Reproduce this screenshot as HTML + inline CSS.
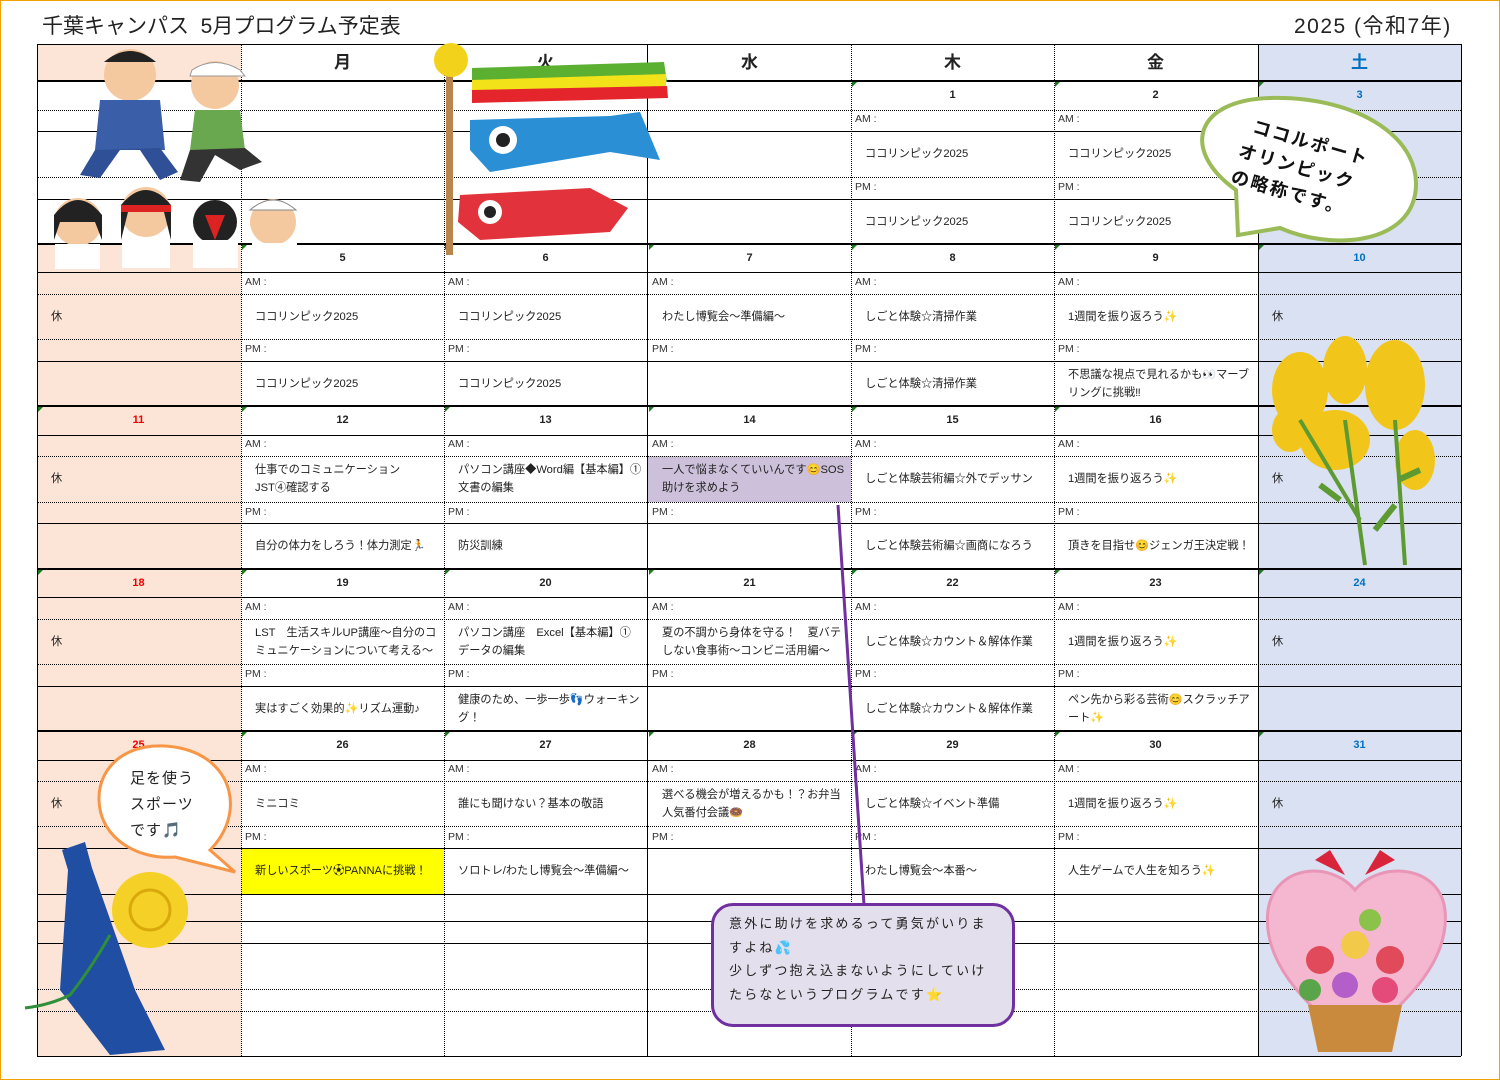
<!DOCTYPE html>
<html><head><meta charset="utf-8"><style>
body{margin:0;width:1500px;height:1080px;background:#fff;position:relative;overflow:hidden;font-family:"Liberation Sans","Noto Sans CJK JP",sans-serif;color:#222}
.a{position:absolute}
.h{position:absolute;left:37px;width:1424px;height:0;border-top:1px solid #000}
.hd{border-top:1px dotted #000}
.hb{border-top:2px solid #000}
.v{position:absolute;top:44px;height:1012px;width:0;border-left:1px solid #000}
.vd{border-left:1px dotted #000}
.d{position:absolute;width:203px;text-align:center;font-size:11px;font-weight:bold;line-height:29px}
.l{position:absolute;font-size:10.5px;line-height:22px;padding-left:4px;color:#333}
.c{position:absolute;width:186px;padding-left:14px;font-size:11.2px;line-height:18px;display:flex;align-items:center;color:#222}
.tri{position:absolute;width:0;height:0;border-top:5px solid #1a7a1a;border-right:5px solid transparent}
.hdr{position:absolute;top:44px;height:37px;width:203px;text-align:center;font-size:17px;font-weight:bold;line-height:37px}
</style></head><body>
<div class="a" style="left:0;top:0;width:1498px;height:1078px;border:1px solid #f0a000"></div>
<div class="a" style="left:42px;top:10px;font-size:21px">千葉キャンパス&nbsp;&nbsp;5月プログラム予定表</div>
<div class="a" style="left:1294px;top:10px;font-size:21px;letter-spacing:1.5px">2025 (令和7年)</div>
<!-- backgrounds -->
<div class="a" style="left:37px;top:44px;width:204px;height:1012px;background:#fce4d6"></div>
<div class="a" style="left:1258px;top:44px;width:203px;height:1012px;background:#d9e1f2"></div>
<div class="a" style="left:38px;top:82px;width:203px;height:162px;background:#fff"></div>
<div class="a" style="left:648px;top:456px;width:203px;height:46px;background:#ccc0da"></div>
<div class="a" style="left:241px;top:848px;width:203px;height:46px;background:#ffff00"></div>
<!-- headers -->
<div class="hdr" style="left:241px">月</div><div class="hdr" style="left:444px">火</div><div class="hdr" style="left:648px">水</div><div class="hdr" style="left:851px">木</div><div class="hdr" style="left:1054px">金</div><div class="hdr" style="left:1258px;color:#0070c0">土</div>
<!-- horizontal lines -->
<div class="h" style="top:44px"></div><div class="h hb" style="top:80px"></div>
<div class="h hd" style="top:110px"></div><div class="h" style="top:131px;border-top-style:solid"></div><div class="h hd" style="top:177px"></div><div class="h" style="top:199px"></div>
<div class="h hb" style="top:243px"></div><div class="h" style="top:272px"></div><div class="h hd" style="top:294px"></div><div class="h hd" style="top:339px"></div><div class="h" style="top:361px"></div>
<div class="h hb" style="top:405px"></div><div class="h" style="top:435px"></div><div class="h hd" style="top:456px"></div><div class="h hd" style="top:502px"></div><div class="h" style="top:523px"></div>
<div class="h hb" style="top:568px"></div><div class="h" style="top:597px"></div><div class="h hd" style="top:619px"></div><div class="h hd" style="top:664px"></div><div class="h" style="top:686px"></div>
<div class="h hb" style="top:730px"></div><div class="h" style="top:760px"></div><div class="h hd" style="top:781px"></div><div class="h hd" style="top:826px"></div><div class="h" style="top:848px"></div>
<div class="h" style="top:894px"></div><div class="h" style="top:921px"></div><div class="h" style="top:943px"></div><div class="h hd" style="top:989px"></div><div class="h hd" style="top:1011px"></div><div class="h" style="top:1056px"></div>
<!-- vertical -->
<div class="v" style="left:37px"></div><div class="v vd" style="left:241px"></div><div class="v vd" style="left:444px"></div><div class="v" style="left:647px"></div><div class="v vd" style="left:851px"></div><div class="v vd" style="left:1054px"></div><div class="v" style="left:1258px"></div><div class="v" style="left:1461px"></div>
<!-- dates -->
<div class="d" style="left:851px;top:81px">1</div><div class="d" style="left:1054px;top:81px">2</div><div class="d" style="left:1258px;top:81px;color:#0070c0">3</div>
<div class="d" style="left:241px;top:244px">5</div><div class="d" style="left:444px;top:244px">6</div><div class="d" style="left:648px;top:244px">7</div><div class="d" style="left:851px;top:244px">8</div><div class="d" style="left:1054px;top:244px">9</div><div class="d" style="left:1258px;top:244px;color:#0070c0">10</div>
<div class="d" style="left:37px;top:406px;color:#e00">11</div><div class="d" style="left:241px;top:406px">12</div><div class="d" style="left:444px;top:406px">13</div><div class="d" style="left:648px;top:406px">14</div><div class="d" style="left:851px;top:406px">15</div><div class="d" style="left:1054px;top:406px">16</div>
<div class="d" style="left:37px;top:569px;color:#e00">18</div><div class="d" style="left:241px;top:569px">19</div><div class="d" style="left:444px;top:569px">20</div><div class="d" style="left:648px;top:569px">21</div><div class="d" style="left:851px;top:569px">22</div><div class="d" style="left:1054px;top:569px">23</div><div class="d" style="left:1258px;top:569px;color:#0070c0">24</div>
<div class="d" style="left:37px;top:731px;color:#e00">25</div><div class="d" style="left:241px;top:731px">26</div><div class="d" style="left:444px;top:731px">27</div><div class="d" style="left:648px;top:731px">28</div><div class="d" style="left:851px;top:731px">29</div><div class="d" style="left:1054px;top:731px">30</div><div class="d" style="left:1258px;top:731px;color:#0070c0">31</div>
<!-- triangles -->
<div class="tri" style="left:852px;top:82px"></div><div class="tri" style="left:1055px;top:82px"></div><div class="tri" style="left:1259px;top:82px"></div>
<div class="tri" style="left:242px;top:245px"></div><div class="tri" style="left:445px;top:245px"></div><div class="tri" style="left:649px;top:245px"></div><div class="tri" style="left:852px;top:245px"></div><div class="tri" style="left:1055px;top:245px"></div><div class="tri" style="left:1259px;top:245px"></div>
<div class="tri" style="left:38px;top:407px"></div><div class="tri" style="left:242px;top:407px"></div><div class="tri" style="left:445px;top:407px"></div><div class="tri" style="left:649px;top:407px"></div><div class="tri" style="left:852px;top:407px"></div><div class="tri" style="left:1055px;top:407px"></div>
<div class="tri" style="left:38px;top:570px"></div><div class="tri" style="left:242px;top:570px"></div><div class="tri" style="left:445px;top:570px"></div><div class="tri" style="left:649px;top:570px"></div><div class="tri" style="left:852px;top:570px"></div><div class="tri" style="left:1055px;top:570px"></div><div class="tri" style="left:1259px;top:570px"></div>
<div class="tri" style="left:242px;top:732px"></div><div class="tri" style="left:445px;top:732px"></div><div class="tri" style="left:649px;top:732px"></div><div class="tri" style="left:852px;top:732px"></div><div class="tri" style="left:1055px;top:732px"></div><div class="tri" style="left:1259px;top:732px"></div>
<!-- AM/PM labels -->
<div class="l" style="left:851px;top:108px">AM :</div><div class="l" style="left:1054px;top:108px">AM :</div><div class="l" style="left:851px;top:176px">PM :</div><div class="l" style="left:1054px;top:176px">PM :</div>
<div class="l" style="left:241px;top:271px">AM :</div><div class="l" style="left:444px;top:271px">AM :</div><div class="l" style="left:648px;top:271px">AM :</div><div class="l" style="left:851px;top:271px">AM :</div><div class="l" style="left:1054px;top:271px">AM :</div>
<div class="l" style="left:241px;top:338px">PM :</div><div class="l" style="left:444px;top:338px">PM :</div><div class="l" style="left:648px;top:338px">PM :</div><div class="l" style="left:851px;top:338px">PM :</div><div class="l" style="left:1054px;top:338px">PM :</div>
<div class="l" style="left:241px;top:433px">AM :</div><div class="l" style="left:444px;top:433px">AM :</div><div class="l" style="left:648px;top:433px">AM :</div><div class="l" style="left:851px;top:433px">AM :</div><div class="l" style="left:1054px;top:433px">AM :</div>
<div class="l" style="left:241px;top:501px">PM :</div><div class="l" style="left:444px;top:501px">PM :</div><div class="l" style="left:648px;top:501px">PM :</div><div class="l" style="left:851px;top:501px">PM :</div><div class="l" style="left:1054px;top:501px">PM :</div>
<div class="l" style="left:241px;top:596px">AM :</div><div class="l" style="left:444px;top:596px">AM :</div><div class="l" style="left:648px;top:596px">AM :</div><div class="l" style="left:851px;top:596px">AM :</div><div class="l" style="left:1054px;top:596px">AM :</div>
<div class="l" style="left:241px;top:663px">PM :</div><div class="l" style="left:444px;top:663px">PM :</div><div class="l" style="left:648px;top:663px">PM :</div><div class="l" style="left:851px;top:663px">PM :</div><div class="l" style="left:1054px;top:663px">PM :</div>
<div class="l" style="left:241px;top:758px">AM :</div><div class="l" style="left:444px;top:758px">AM :</div><div class="l" style="left:648px;top:758px">AM :</div><div class="l" style="left:851px;top:758px">AM :</div><div class="l" style="left:1054px;top:758px">AM :</div>
<div class="l" style="left:241px;top:826px">PM :</div><div class="l" style="left:444px;top:826px">PM :</div><div class="l" style="left:648px;top:826px">PM :</div><div class="l" style="left:851px;top:826px">PM :</div><div class="l" style="left:1054px;top:826px">PM :</div>
<!-- content -->
<div class="c" style="left:851px;top:131px;height:46px">ココリンピック2025</div><div class="c" style="left:1054px;top:131px;height:46px">ココリンピック2025</div>
<div class="c" style="left:851px;top:199px;height:45px">ココリンピック2025</div><div class="c" style="left:1054px;top:199px;height:45px">ココリンピック2025</div>

<div class="c" style="left:37px;top:294px;height:45px">休</div><div class="c" style="left:1258px;top:294px;height:45px">休</div>
<div class="c" style="left:241px;top:294px;height:45px">ココリンピック2025</div><div class="c" style="left:444px;top:294px;height:45px">ココリンピック2025</div><div class="c" style="left:648px;top:294px;height:45px">わたし博覧会～準備編～</div><div class="c" style="left:851px;top:294px;height:45px">しごと体験☆清掃作業</div><div class="c" style="left:1054px;top:294px;height:45px">1週間を振り返ろう✨</div>
<div class="c" style="left:241px;top:361px;height:45px">ココリンピック2025</div><div class="c" style="left:444px;top:361px;height:45px">ココリンピック2025</div><div class="c" style="left:851px;top:361px;height:45px">しごと体験☆清掃作業</div><div class="c" style="left:1054px;top:361px;height:45px">不思議な視点で見れるかも👀マーブリングに挑戦‼</div>

<div class="c" style="left:37px;top:456px;height:46px">休</div><div class="c" style="left:1258px;top:456px;height:46px">休</div>
<div class="c" style="left:241px;top:456px;height:46px">仕事でのコミュニケーション　JST④確認する</div><div class="c" style="left:444px;top:456px;height:46px">パソコン講座◆Word編【基本編】①文書の編集</div><div class="c" style="left:648px;top:456px;height:46px">一人で悩まなくていいんです😊SOS助けを求めよう</div><div class="c" style="left:851px;top:456px;height:46px">しごと体験芸術編☆外でデッサン</div><div class="c" style="left:1054px;top:456px;height:46px">1週間を振り返ろう✨</div>
<div class="c" style="left:241px;top:523px;height:46px">自分の体力をしろう！体力測定🏃</div><div class="c" style="left:444px;top:523px;height:46px">防災訓練</div><div class="c" style="left:851px;top:523px;height:46px">しごと体験芸術編☆画商になろう</div><div class="c" style="left:1054px;top:523px;height:46px">頂きを目指せ😊ジェンガ王決定戦！</div>

<div class="c" style="left:37px;top:619px;height:45px">休</div><div class="c" style="left:1258px;top:619px;height:45px">休</div>
<div class="c" style="left:241px;top:619px;height:45px">LST　生活スキルUP講座～自分のコミュニケーションについて考える～</div><div class="c" style="left:444px;top:619px;height:45px">パソコン講座　Excel【基本編】①<br>データの編集</div><div class="c" style="left:648px;top:619px;height:45px">夏の不調から身体を守る！　夏バテ<br>しない食事術～コンビニ活用編～</div><div class="c" style="left:851px;top:619px;height:45px">しごと体験☆カウント＆解体作業</div><div class="c" style="left:1054px;top:619px;height:45px">1週間を振り返ろう✨</div>
<div class="c" style="left:241px;top:686px;height:45px">実はすごく効果的✨リズム運動♪</div><div class="c" style="left:444px;top:686px;height:45px">健康のため、一歩一歩👣ウォーキング！</div><div class="c" style="left:851px;top:686px;height:45px">しごと体験☆カウント＆解体作業</div><div class="c" style="left:1054px;top:686px;height:45px">ペン先から彩る芸術😊スクラッチアート✨</div>

<div class="c" style="left:37px;top:781px;height:45px">休</div><div class="c" style="left:1258px;top:781px;height:45px">休</div>
<div class="c" style="left:241px;top:781px;height:45px">ミニコミ</div><div class="c" style="left:444px;top:781px;height:45px">誰にも聞けない？基本の敬語</div><div class="c" style="left:648px;top:781px;height:45px">選べる機会が増えるかも！？お弁当<br>人気番付会議🍩</div><div class="c" style="left:851px;top:781px;height:45px">しごと体験☆イベント準備</div><div class="c" style="left:1054px;top:781px;height:45px">1週間を振り返ろう✨</div>
<div class="c" style="left:241px;top:848px;height:46px">新しいスポーツ⚽PANNAに挑戦！</div><div class="c" style="left:444px;top:848px;height:46px">ソロトレ/わたし博覧会～準備編～</div><div class="c" style="left:851px;top:848px;height:46px">わたし博覧会～本番～</div><div class="c" style="left:1054px;top:848px;height:46px">人生ゲームで人生を知ろう✨</div>

<!-- images (approximations) -->
<svg class="a" style="left:0;top:0" width="1500" height="1080">
 <g>
  <circle cx="130" cy="75" r="26" fill="#f5c9a0"/><path d="M104 62 Q130 40 156 62 Z" fill="#222"/>
  <path d="M100 100 L160 100 L165 150 L95 150Z" fill="#3a5fa8"/><path d="M95 150 L80 175 L100 178 L120 150 L140 150 L160 180 L178 172 L160 148Z" fill="#2f4f96"/>
  <circle cx="215" cy="85" r="24" fill="#f5c9a0"/><path d="M192 70 Q215 55 240 70 L245 76 L190 76Z" fill="#fff" stroke="#999"/>
  <path d="M195 110 L240 110 L245 150 L190 150Z" fill="#6aa84f"/><path d="M190 150 L180 180 L200 182 L215 155 L240 170 L262 162 L245 148Z" fill="#333"/>
  <circle cx="78" cy="222" r="24" fill="#f5c9a0"/><path d="M54 215 Q78 185 102 215 L102 240 L95 222 L60 222 L54 240Z" fill="#222"/><rect x="55" y="244" width="45" height="25" fill="#fff"/>
  <circle cx="146" cy="212" r="25" fill="#f5c9a0"/><path d="M121 205 Q146 175 171 205 L171 240 L164 212 L128 212 L121 240Z" fill="#222"/><path d="M121 205 L171 205 L171 212 L121 212Z" fill="#d22"/><rect x="122" y="238" width="48" height="30" fill="#fff"/>
  <circle cx="215" cy="222" r="22" fill="#222"/><path d="M205 215 L225 215 L215 240Z" fill="#d22"/><rect x="193" y="240" width="45" height="28" fill="#fff"/>
  <circle cx="273" cy="222" r="23" fill="#f5c9a0"/><path d="M250 210 Q273 190 296 210Z" fill="#fff" stroke="#888"/><rect x="252" y="243" width="45" height="25" fill="#fff"/>
 </g>
 <rect x="446" y="62" width="7" height="193" fill="#b8864b"/>
 <circle cx="451" cy="60" r="17" fill="#f3d21b"/>
 <path d="M472 68 L664 62 L667 82 L472 90Z" fill="#5cb031"/><path d="M472 80 L666 74 L666 90 L472 96Z" fill="#f2e21a"/><path d="M472 90 L667 86 L668 98 L472 103Z" fill="#e4262c"/>
 <path d="M470 120 L610 116 L640 112 L660 160 L610 152 L490 172 L470 150Z" fill="#2a8fd4"/><circle cx="503" cy="140" r="14" fill="#fff"/><circle cx="503" cy="140" r="7" fill="#222"/>
 <path d="M460 195 L590 188 L628 208 L610 232 L480 240 L458 222Z" fill="#e2323c"/><circle cx="490" cy="212" r="12" fill="#fff"/><circle cx="490" cy="212" r="6" fill="#222"/>
 <g fill="#f2c51a">
  <ellipse cx="1300" cy="390" rx="28" ry="38"/><ellipse cx="1345" cy="370" rx="22" ry="34"/><ellipse cx="1395" cy="385" rx="30" ry="45"/><ellipse cx="1335" cy="440" rx="35" ry="30"/><ellipse cx="1415" cy="460" rx="20" ry="30"/><ellipse cx="1290" cy="430" rx="18" ry="22"/>
 </g>
 <path d="M1345 420 L1365 565 M1395 420 L1405 565 M1300 420 L1360 520" stroke="#5d9a32" stroke-width="4" fill="none"/>
 <path d="M1340 500 L1320 485 M1375 530 L1395 505 M1398 480 L1420 470" stroke="#5d9a32" stroke-width="6"/>
 <path d="M62 850 L85 842 L92 868 L135 990 L165 1050 L110 1055 L60 990 L68 870Z" fill="#1f4ea3"/>
 <path d="M110 935 Q90 970 70 995 Q50 1005 25 1008" stroke="#2f8f3a" stroke-width="3" fill="none"/>
 <circle cx="150" cy="910" r="38" fill="#f5d026"/><circle cx="150" cy="910" r="20" fill="none" stroke="#d9a90c" stroke-width="3"/>
 <path d="M1355 1045 C1300 1000 1262 960 1268 910 C1275 865 1330 860 1355 890 C1380 860 1440 865 1445 910 C1450 960 1410 1000 1355 1045Z" fill="#f4b7cf" stroke="#e895b6" stroke-width="3"/>
 <path d="M1315 860 L1345 875 L1330 850Z M1395 860 L1365 875 L1380 850Z" fill="#d8253c"/>
 <circle cx="1320" cy="960" r="14" fill="#e04a5a"/><circle cx="1355" cy="945" r="14" fill="#f3c94a"/><circle cx="1390" cy="960" r="14" fill="#e04a5a"/><circle cx="1345" cy="985" r="13" fill="#b45fc9"/><circle cx="1385" cy="990" r="13" fill="#e44a7a"/><circle cx="1310" cy="990" r="11" fill="#5aa54a"/><circle cx="1370" cy="920" r="11" fill="#8bc34a"/>
 <path d="M1308 1005 L1402 1005 L1392 1052 L1318 1052Z" fill="#c98a3e"/>
 <line x1="838" y1="505" x2="864" y2="905" stroke="#7030a0" stroke-width="3"/>
 <path d="M1238 235 L1236 190 C1180 150 1195 100 1270 98 C1360 96 1425 140 1415 195 C1405 245 1330 250 1280 228 Z" fill="#fff" stroke="#9bbb59" stroke-width="4"/>
 <path d="M175 857 L235 872 L210 850 C245 815 235 760 180 748 C130 738 98 765 99 800 C100 840 140 860 175 857Z" fill="#fff" stroke="#f79646" stroke-width="3"/>
</svg>
<div class="a" style="left:1250px;top:112px;transform:rotate(16deg);transform-origin:0 0;font-size:18px;font-weight:bold;line-height:27px;letter-spacing:2px;color:#111">&nbsp;ココルポート<br>オリンピック<br>の略称です。</div>
<div class="a" style="left:130px;top:766px;font-size:15px;line-height:26px;letter-spacing:1px;color:#222">足を使う<br>スポーツ<br>です🎵</div>
<div class="a" style="left:711px;top:903px;width:298px;height:118px;border:3px solid #7030a0;border-radius:22px;background:#e4dfec"></div>
<div class="a" style="left:729px;top:912px;width:280px;font-size:13px;line-height:23.5px;letter-spacing:2.2px;color:#222">意外に助けを求めるって勇気がいりま<br>すよね💦<br>少しずつ抱え込まないようにしていけ<br>たらなというプログラムです⭐</div>
</body></html>
